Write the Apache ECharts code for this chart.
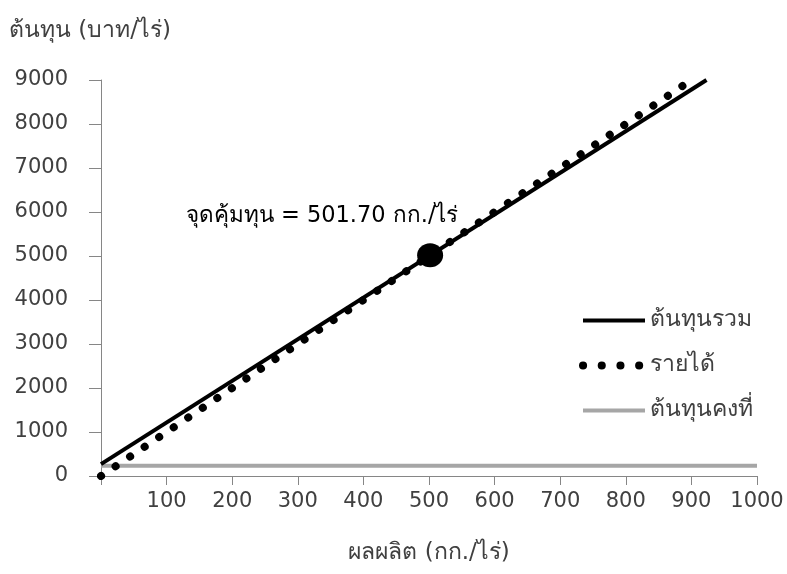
<!DOCTYPE html>
<html>
<head>
<meta charset="utf-8">
<script src="https://cdn.jsdelivr.net/npm/echarts@6/dist/echarts.min.js"></script>
<style>html,body{margin:0;padding:0;background:#fff;}#c{width:787px;height:574px;}</style>
</head>
<body>
<div id="c"></div>
<script>
// Data
const costX = [0, 923];
const totalCost = [270, 9000];   // ต้นทุนรวม
const revX = [0, 890];
const revenue = [0, 8900];       // รายได้
const fixX = [0, 1000];
const fixedCost = [235, 235];    // ต้นทุนคงที่
const breakEven = [501.70, 5017];
const seriesNames = ['ต้นทุนรวม', 'รายได้', 'ต้นทุนคงที่'];
const yName = 'ต้นทุน (บาท/ไร่)';
const xName = 'ผลผลิต (กก./ไร่)';
const beLabel = 'จุดคุ้มทุน = 501.70 กก./ไร่';

const FONT = "'DejaVu Sans', sans-serif";
const FS = 21;   // numbers
const FT = 23;   // Thai texts
const pair = (xs, ys) => xs.map((x, i) => [x, ys[i]]);

const chart = echarts.init(document.getElementById('c'));
chart.setOption({
  animation: false,
  textStyle: {fontFamily: FONT},
  title: {text: yName, left: 9, top: 20, padding: 0, textStyle: {fontFamily: FONT, fontSize: FT, fontWeight: 'normal', color: '#404040'}},
  grid: {left: 101, right: 30, top: 80, bottom: 98},
  legend: {
    orient: 'vertical', left: 579, top: 309, padding: 0,
    itemWidth: 62, itemHeight: 10, itemGap: 22,
    itemStyle: {opacity: 0},
    textStyle: {fontFamily: FONT, fontSize: FT, color: '#404040', padding: [0,0,0,0]},
    data: [
      {name: seriesNames[0], lineStyle: {color: '#000', width: 4}},
      {name: seriesNames[1], lineStyle: {color: '#000', width: 8, type: [0.1, 18.6], cap: 'round'}},
      {name: seriesNames[2], lineStyle: {color: '#a6a6a6', width: 4}}
    ]
  },
  xAxis: {
    type: 'value', min: 0, max: 1000, interval: 100,
    name: xName, nameLocation: 'middle', nameGap: 66,
    nameTextStyle: {fontFamily: FONT, fontSize: FT, color: '#404040'},
    axisLine: {lineStyle: {color: '#868686', width: 1}},
    axisTick: {show: true, length: 9, lineStyle: {color: '#868686'}},
    axisLabel: {fontFamily: FONT, fontSize: FS, color: '#404040', margin: 15,
      formatter: v => v === 0 ? '' : String(v)},
    splitLine: {show: false}
  },
  yAxis: {
    type: 'value', min: 0, max: 9000, interval: 1000,
    axisLine: {show: true, lineStyle: {color: '#868686', width: 1}},
    axisTick: {show: true, length: 12, lineStyle: {color: '#868686'}},
    axisLabel: {fontFamily: FONT, fontSize: FS, color: '#404040', margin: 33,
      formatter: v => String(v)},
    splitLine: {show: false}
  },
  series: [
    {
      name: seriesNames[2], type: 'line', data: pair(fixX, fixedCost), symbol: 'none',
      lineStyle: {color: '#a6a6a6', width: 4}, itemStyle: {color: '#a6a6a6'}, z: 1
    },
    {
      name: seriesNames[0], type: 'line', data: pair(costX, totalCost), symbol: 'none',
      lineStyle: {color: '#000', width: 4}, itemStyle: {color: '#000'}, z: 2
    },
    {
      name: seriesNames[1], type: 'line', data: pair(revX, revenue), symbol: 'none',
      lineStyle: {color: '#000', width: 8, type: [0.1, 17.4], cap: 'round'}, itemStyle: {color: '#000'}, z: 3
    },
    {
      name: 'be', type: 'scatter', data: [breakEven], symbol: 'circle', symbolSize: [26, 24],
      itemStyle: {color: '#000', opacity: 1}, z: 4,
      label: {show: true, position: 'top', formatter: beLabel, offset: [-108, -11],
        fontFamily: FONT, fontSize: 22.5, color: '#000'}
    }
  ]
});
</script>
</body>
</html>
